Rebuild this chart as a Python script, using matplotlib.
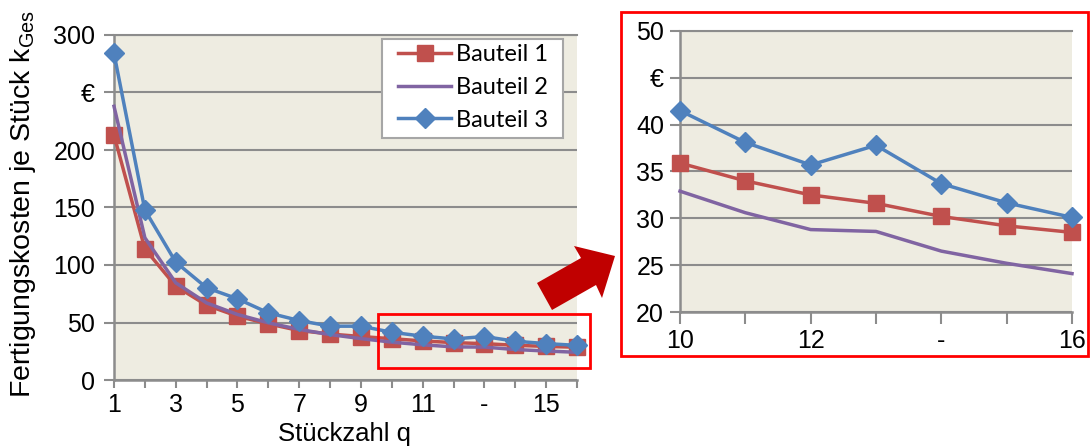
import matplotlib
matplotlib.use("Agg")
import matplotlib.pyplot as plt
from matplotlib.patches import Rectangle, Polygon

# --- data -----------------------------------------------------------------
categories = ["1", "2", "3", "4", "5", "6", "7", "8", "9", "10",
              "11", "12", "-", "-", "15", "16"]
q = list(range(1, 17))

bauteil_1 = [213, 114, 81.6, 65, 55.5, 48.8, 43, 40, 37.8,
             35.9, 34.0, 32.5, 31.6, 30.2, 29.2, 28.5]
bauteil_2 = [238, 123.7, 84.5, 67, 57, 49.7, 44, 39.5, 36,
             32.9, 30.6, 28.8, 28.6, 26.5, 25.2, 24.1]
bauteil_3 = [284, 147.8, 102.5, 80.2, 70.6, 58.4, 51.7, 46.8, 46.8,
             41.5, 38.1, 35.7, 37.8, 33.7, 31.65, 30.1]

main_yticks = [0, 50, 100, 150, 200, 250, 300]
main_yticklabels = ["0", "50", "100", "150", "200", "€", "300"]
zoom_yticks = [20, 25, 30, 35, 40, 45, 50]
zoom_yticklabels = ["20", "25", "30", "35", "40", "€", "50"]

series_names = ["Bauteil 1", "Bauteil 2", "Bauteil 3"]

# --- style -----------------------------------------------------------------
RED = "#C0504D"
PURPLE = "#8064A2"
BLUE = "#4F81BD"
BG = "#EEECE1"
GRID = "#8C8C8C"
FRAME_RED = "#FF0000"
ARROW_RED = "#C00000"

plt.rcParams["font.family"] = ["Liberation Sans", "DejaVu Sans"]

W, H = 1091, 446
fig = plt.figure(figsize=(W / 100, H / 100), dpi=100)


def fx(x):
    return x / W


def fy(y):
    return 1 - y / H


def px_box(left, top, right, bottom):
    return [fx(left), fy(bottom), (right - left) / W, (bottom - top) / H]


def style_axes(ax, ylim, yticks, yticklabels, xlim, xticks_labeled, fs,
               xtick_len, xpad, ypad):
    ax.set_facecolor(BG)
    ax.set_xlim(*xlim)
    ax.set_ylim(*ylim)
    ax.set_yticks(yticks)
    ax.set_yticklabels(yticklabels)
    ax.set_xticks(q[xlim[0] - 1:xlim[1]], minor=True)
    ax.set_xticks(xticks_labeled)
    ax.set_xticklabels([categories[i - 1] for i in xticks_labeled])
    ax.grid(axis="y", color=GRID, linewidth=1.5)
    ax.set_axisbelow(True)
    ax.spines["right"].set_visible(False)
    ax.spines["top"].set_color(GRID)
    ax.spines["top"].set_linewidth(1.5)
    for s in ("left", "bottom"):
        ax.spines[s].set_color(GRID)
        ax.spines[s].set_linewidth(1.8)
    ax.tick_params(axis="y", which="both", direction="out", length=7.5,
                   width=1.5, color=GRID, labelsize=fs, pad=ypad)
    ax.tick_params(axis="x", which="both", direction="out", length=xtick_len,
                   width=1.5, color=GRID, labelsize=fs, pad=xpad)


def draw_series(ax, xs, sl):
    l1, = ax.plot(xs, bauteil_1[sl], color=RED, lw=2.5, marker="s", ms=11,
                  mec=RED, mfc=RED, clip_on=False, zorder=3)
    l2, = ax.plot(xs, bauteil_2[sl], color=PURPLE, lw=2.5, clip_on=False,
                  zorder=4)
    l3, = ax.plot(xs, bauteil_3[sl], color=BLUE, lw=2.5, marker="D", ms=10,
                  mec=BLUE, mfc=BLUE, clip_on=False, zorder=5)
    return [l1, l2, l3]


# --- main chart ----------------------------------------------------------------
ax = fig.add_axes(px_box(114, 35, 577, 380))
style_axes(ax, (0, 300), main_yticks, main_yticklabels, (1, 16),
           [1, 3, 5, 7, 9, 11, 13, 15], 18, 6, 3, 6)
handles = draw_series(ax, q, slice(0, 16))

fig.text(fx(345), fy(434), "Stückzahl q", ha="center", va="center",
         fontsize=18.5)
fig.text(fx(23), fy(204), "Fertigungskosten je Stück k$_\\mathregular{Ges}$",
         rotation=90, ha="center", va="center", fontsize=20.5)

# legend frame drawn at a fixed spot, entries placed inside it
ax.add_patch(Rectangle((fx(382), fy(138)), fx(563) - fx(382),
                       fy(39) - fy(138), transform=fig.transFigure,
                       facecolor="white", edgecolor="#A6A6A6", linewidth=1.5,
                       clip_on=False, zorder=6))
leg = ax.legend(handles, series_names, loc="upper left",
                bbox_to_anchor=(fx(398), fy(44)),
                bbox_transform=fig.transFigure, frameon=False,
                borderaxespad=0, borderpad=0,
                prop={"family": "Lato", "size": 17}, handlelength=2.25,
                handletextpad=0.22, labelspacing=0.5)
leg.set_zorder(7)

# --- zoomed chart ---------------------------------------------------------------
ax2 = fig.add_axes(px_box(680, 31, 1072, 312))
style_axes(ax2, (20, 50), zoom_yticks, zoom_yticklabels, (10, 16),
           [10, 12, 14, 16], 18, 8.5, 4, 4)
draw_series(ax2, q[9:], slice(9, 16))

# --- frames and arrow -----------------------------------------------------------
for (l, t, r, b) in [(378, 314, 590, 368), (621, 12, 1088, 356)]:
    fig.patches.append(Rectangle((fx(l), fy(b)), (r - l) / W, (b - t) / H,
                                 transform=fig.transFigure, fill=False,
                                 edgecolor=FRAME_RED, linewidth=2, zorder=10))

arrow_px = [(537, 283), (581, 258), (574, 246), (615, 256),
            (602, 298), (596, 285), (552, 310)]
fig.patches.append(Polygon([(fx(x), fy(y)) for x, y in arrow_px],
                           closed=True, transform=fig.transFigure,
                           facecolor=ARROW_RED, edgecolor="none", zorder=11))

fig.savefig("out.png", dpi=100)
